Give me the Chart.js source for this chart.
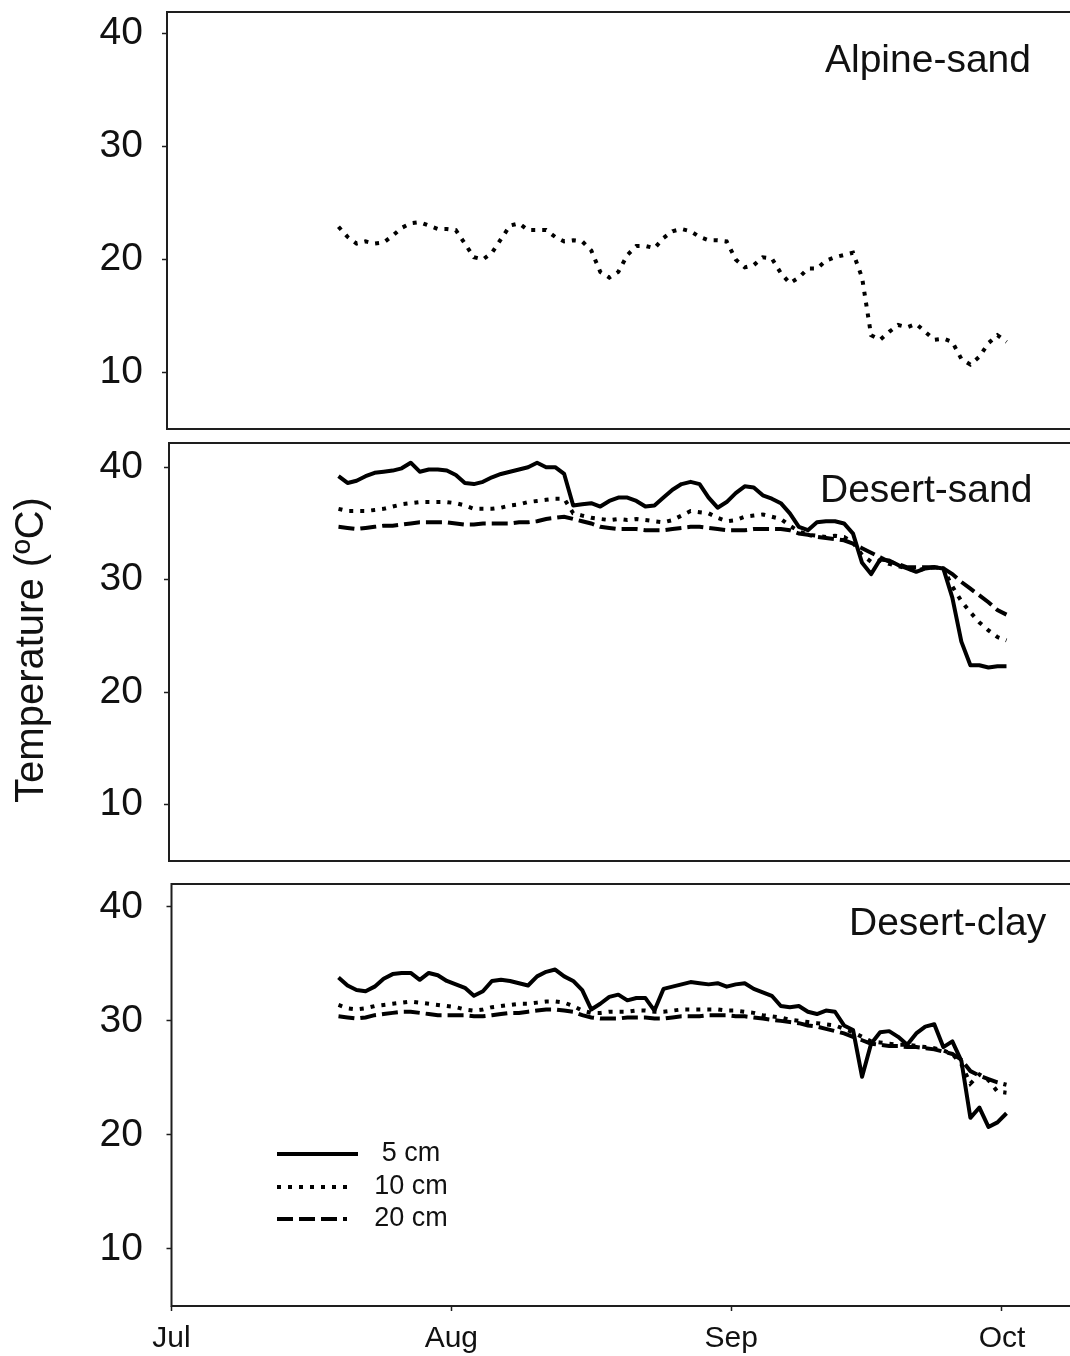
<!DOCTYPE html>
<html>
<head>
<meta charset="utf-8">
<script src="https://cdn.jsdelivr.net/npm/chart.js@4.4.1/dist/chart.umd.min.js"></script>
<style>
  html, body { margin: 0; padding: 0; background: #fff; overflow: hidden; }
  #wrap { position: relative; width: 1070px; height: 1356px; overflow: hidden; background: #fff; }
  .panel { position: absolute; left: 0; }
</style>
</head>
<body>
<div id="wrap">
  <div class="panel" style="top:0px"><canvas id="alpine" width="1080" height="440"></canvas></div>
  <div class="panel" style="top:440px"><canvas id="dsand" width="1080" height="440"></canvas></div>
  <div class="panel" style="top:880px"><canvas id="dclay" width="1080" height="476"></canvas></div>
</div>
<script>
// Month ticks (days counted from 1 July)
const months = ['Jul', 'Aug', 'Sep', 'Oct'];
const monthStarts = [0, 31, 62, 92];
const yTicks = [10, 20, 30, 40];
const depthLabels = ['5 cm', '10 cm', '20 cm'];
const siteNames = ['Alpine-sand', 'Desert-sand', 'Desert-clay'];

// Daily means, 19 July (day 18.5) to 1 October (day 92.5)
const firstDay = 18.5;
const dayCount = 75;
const days = Array.from({ length: dayCount }, (_, i) => firstDay + i);

// Soil temperature (°C)
const alpineSand10 = [
  22.9, 22.0, 21.4, 21.6, 21.4, 21.5, 22.1, 22.8, 23.2, 23.3,
  23.0, 22.7, 22.7, 22.6, 21.4, 20.2, 20.0, 20.6, 21.8, 23.0,
  23.2, 22.6, 22.6, 22.6, 22.0, 21.6, 21.7, 21.6, 20.8, 18.9,
  18.4, 18.9, 20.4, 21.2, 21.2, 21.0, 21.9, 22.5, 22.7, 22.5,
  22.0, 21.7, 21.7, 21.6, 20.0, 19.3, 19.5, 20.2, 20.1, 18.8,
  17.9, 18.4, 19.2, 19.2, 19.9, 20.2, 20.4, 20.6, 18.4, 13.3,
  12.9, 13.6, 14.2, 14.0, 14.3, 13.6, 12.9, 13.0, 12.7, 11.2,
  10.7, 11.4, 12.6, 13.3, 12.7
];
const desertSand5 = [
  39.2, 38.6, 38.8, 39.2, 39.5, 39.6, 39.7, 39.9, 40.4, 39.6,
  39.8, 39.8, 39.7, 39.3, 38.6, 38.5, 38.7, 39.1, 39.4, 39.6,
  39.8, 40.0, 40.4, 40.0, 40.0, 39.4, 36.6, 36.7, 36.8, 36.5,
  37.0, 37.3, 37.3, 37.0, 36.5, 36.6, 37.3, 38.0, 38.5, 38.7,
  38.5, 37.3, 36.4, 36.9, 37.7, 38.3, 38.2, 37.5, 37.2, 36.8,
  35.9, 34.7, 34.4, 35.1, 35.2, 35.2, 35.0, 34.1, 31.5, 30.5,
  31.8, 31.7, 31.3, 31.0, 30.7, 31.0, 31.1, 31.0, 28.4, 24.5,
  22.4, 22.4, 22.2, 22.3, 22.3
];
const desertSand10 = [
  36.3, 36.1, 36.1, 36.1, 36.2, 36.3, 36.5, 36.7, 36.8, 36.9,
  36.9, 36.9, 36.9, 36.8, 36.6, 36.3, 36.3, 36.3, 36.4, 36.6,
  36.7, 36.9, 37.0, 37.1, 37.2, 37.2, 35.9, 35.7, 35.5, 35.4,
  35.3, 35.4, 35.3, 35.4, 35.3, 35.2, 35.1, 35.3, 35.7, 36.1,
  36.0, 35.9, 35.5, 35.2, 35.3, 35.6, 35.7, 35.8, 35.6, 35.4,
  34.8, 34.3, 34.0, 33.9, 33.8, 33.9, 33.8, 33.3, 32.2, 31.6,
  31.7, 31.4, 31.2, 31.0, 30.8, 31.0, 31.1, 31.0, 29.4, 28.1,
  27.1, 26.2, 25.5, 24.9, 24.6
];
const desertSand20 = [
  34.7, 34.6, 34.5, 34.6, 34.7, 34.8, 34.8, 34.9, 35.0, 35.1,
  35.1, 35.1, 35.1, 35.0, 34.9, 34.9, 35.0, 35.0, 35.0, 35.0,
  35.1, 35.1, 35.2, 35.4, 35.5, 35.6, 35.4, 35.2, 35.0, 34.7,
  34.6, 34.5, 34.5, 34.5, 34.4, 34.4, 34.4, 34.5, 34.6, 34.7,
  34.7, 34.6, 34.5, 34.4, 34.4, 34.4, 34.5, 34.5, 34.5, 34.5,
  34.4, 34.1, 34.0, 33.8, 33.7, 33.6, 33.5, 33.2, 32.8, 32.4,
  32.0, 31.6, 31.4, 31.1, 31.1, 31.1, 31.1, 31.0, 30.5, 29.8,
  29.2, 28.6, 28.0, 27.3, 26.9
];
const desertClay5 = [
  33.8, 33.1, 32.7, 32.6, 33.0, 33.7, 34.1, 34.2, 34.2, 33.6,
  34.2, 34.0, 33.5, 33.2, 32.9, 32.2, 32.6, 33.5, 33.6, 33.5,
  33.3, 33.1, 33.9, 34.3, 34.5, 33.9, 33.5, 32.7, 31.0, 31.5,
  32.1, 32.3, 31.8, 32.0, 32.0, 30.9, 32.8, 33.0, 33.2, 33.4,
  33.3, 33.2, 33.3, 33.0, 33.2, 33.3, 32.8, 32.5, 32.2, 31.3,
  31.2, 31.3, 30.8, 30.6, 30.9, 30.8, 29.6, 29.2, 25.1, 28.0,
  29.0, 29.1, 28.6, 27.9, 28.9, 29.5, 29.7, 27.7, 28.2, 26.5,
  21.5, 22.4, 20.7, 21.1, 21.9
];
const desertClay10 = [
  31.4, 31.1, 31.0, 31.1, 31.3, 31.4, 31.5, 31.6, 31.7, 31.6,
  31.5, 31.4, 31.3, 31.2, 31.0, 30.9, 31.0, 31.2, 31.3, 31.4,
  31.5, 31.5, 31.6, 31.7, 31.7, 31.6, 31.3, 30.9, 30.7, 30.7,
  30.8, 30.8, 30.8, 30.9, 30.9, 30.8, 30.8, 30.9, 31.0, 31.0,
  31.0, 31.0, 31.0, 30.9, 30.9, 30.8, 30.7, 30.5, 30.4, 30.3,
  30.1, 30.0, 29.9, 29.8, 29.7, 29.6, 29.3, 29.0, 28.6, 28.2,
  28.1, 28.0, 27.9, 27.9, 27.8, 27.7, 27.6, 27.4, 27.1, 26.2,
  24.5, 25.3, 24.8, 23.8, 23.7
];
const desertClay20 = [
  30.4, 30.3, 30.2, 30.3, 30.5, 30.6, 30.7, 30.8, 30.8, 30.7,
  30.6, 30.5, 30.5, 30.5, 30.5, 30.4, 30.4, 30.5, 30.6, 30.7,
  30.7, 30.8, 30.9, 31.0, 31.0, 30.9, 30.8, 30.5, 30.3, 30.2,
  30.2, 30.2, 30.3, 30.3, 30.3, 30.2, 30.2, 30.3, 30.4, 30.4,
  30.4, 30.5, 30.5, 30.5, 30.4, 30.4, 30.3, 30.2, 30.1, 30.0,
  29.9, 29.8, 29.6, 29.5, 29.3, 29.1, 28.9, 28.6, 28.3, 28.0,
  27.9, 27.8, 27.8, 27.7, 27.7, 27.6, 27.5, 27.3, 27.1, 26.6,
  25.6, 25.2, 24.9, 24.6, 24.4
];

const FONT = '"Liberation Sans", Arial, Helvetica, sans-serif';
const INK = '#111';
const FRAME = '#1e1e1e';

// Line style for each depth: solid, dotted, dashed
const depthStyles = [
  { borderDash: [], borderWidth: 4 },
  { borderDash: [4, 7], borderWidth: 4 },
  { borderDash: [16, 6], borderWidth: 4 }
];

function series(values, depthIndex) {
  const st = depthStyles[depthIndex];
  return {
    label: depthLabels[depthIndex],
    data: days.map((d, i) => ({ x: d, y: values[i] })),
    borderColor: '#000',
    borderWidth: st.borderWidth,
    borderDash: st.borderDash,
    borderCapStyle: 'butt',
    borderJoinStyle: depthIndex === 0 ? 'round' : 'miter',
    pointRadius: 0,
    tension: 0,
    fill: false
  };
}

// Box around the plotting area plus the site name
const framePlugin = {
  id: 'frame',
  afterDatasetsDraw(chart, args, opts) {
    const { ctx, chartArea: a } = chart;
    ctx.save();
    ctx.strokeStyle = FRAME;
    ctx.lineWidth = 2;
    ctx.strokeRect(a.left, a.top, a.right - a.left, a.bottom - a.top);
    if (opts.title) {
      ctx.font = '39px ' + FONT;
      ctx.fillStyle = INK;
      ctx.textAlign = 'left';
      ctx.textBaseline = 'alphabetic';
      ctx.fillText(opts.title, opts.titleX, opts.titleY);
    }
    ctx.restore();
  }
};

// Depth key drawn inside the lower panel
const depthKeyPlugin = {
  id: 'depthKey',
  afterDatasetsDraw(chart, args, opts) {
    if (!opts.show) return;
    const { ctx } = chart;
    ctx.save();
    chart.data.datasets.forEach((ds, i) => {
      const y = opts.rows[i];
      ctx.strokeStyle = ds.borderColor;
      ctx.lineWidth = ds.borderWidth;
      ctx.setLineDash(ds.borderDash);
      ctx.lineCap = 'butt';
      ctx.beginPath();
      ctx.moveTo(opts.lineX0, y);
      ctx.lineTo(opts.lineX1[i], y);
      ctx.stroke();
      ctx.setLineDash([]);
      ctx.font = '27px ' + FONT;
      ctx.fillStyle = INK;
      ctx.textAlign = 'center';
      ctx.textBaseline = 'middle';
      ctx.fillText(ds.label, opts.textX, y);
    });
    ctx.restore();
  }
};

// Rotated y-axis caption
const yCaptionPlugin = {
  id: 'yCaption',
  afterDraw(chart, args, opts) {
    if (!opts.text) return;
    const { ctx } = chart;
    ctx.save();
    ctx.translate(opts.x, opts.y);
    ctx.rotate(-Math.PI / 2);
    ctx.font = '40px ' + FONT;
    ctx.fillStyle = INK;
    ctx.textAlign = 'center';
    ctx.textBaseline = 'middle';
    ctx.fillText(opts.text, 0, 0);
    ctx.restore();
  }
};

const JUL_PX = 171.5;       // pixel of 1 July
const PX_PER_DAY = 9.027;   // horizontal scale
const RIGHT_PX = 1080;

function makeChart(id, cfg) {
  const left = cfg.left;
  return new Chart(document.getElementById(id), {
    type: 'line',
    data: { datasets: cfg.datasets },
    options: {
      responsive: false,
      animation: false,
      events: [],
      layout: { padding: { top: cfg.padTop, bottom: cfg.padBottom, left: 0, right: 0 } },
      scales: {
        x: {
          type: 'linear',
          display: cfg.showX,
          min: (left - JUL_PX) / PX_PER_DAY,
          max: (RIGHT_PX - JUL_PX) / PX_PER_DAY,
          grid: { display: true, drawOnChartArea: false, drawTicks: true, tickLength: 5, tickColor: FRAME, tickWidth: 1.5 },
          border: { display: false },
          ticks: {
            autoSkip: false, maxRotation: 0, padding: 10, color: INK,
            font: { family: FONT, size: 30 },
            callback: v => months[monthStarts.indexOf(v)]
          },
          afterBuildTicks: s => { s.ticks = monthStarts.map(v => ({ value: v })); },
          afterFit: s => {
            s.height = cfg.showX ? 50 : 0;
            s.paddingLeft = 0; s.paddingRight = 0;
          }
        },
        y: {
          type: 'linear',
          min: 5,
          max: cfg.yMax,
          grid: { display: true, drawOnChartArea: false, drawTicks: true, tickLength: 5, tickColor: FRAME, tickWidth: 1.5 },
          border: { display: false },
          ticks: {
            autoSkip: false, padding: left - 5 - 143, color: INK,
            font: { family: FONT, size: 39 }
          },
          afterBuildTicks: s => { s.ticks = yTicks.map(v => ({ value: v })); },
          afterFit: s => { s.width = left; s.paddingTop = 0; s.paddingBottom = 0; }
        }
      },
      plugins: {
        legend: { display: false },
        tooltip: { enabled: false },
        frame: { title: cfg.title, titleX: cfg.titleX, titleY: cfg.titleY },
        depthKey: cfg.key || { show: false },
        yCaption: cfg.caption || {}
      }
    },
    plugins: [framePlugin, depthKeyPlugin, yCaptionPlugin]
  });
}

makeChart('alpine', {
  left: 167, padTop: 12, padBottom: 11, yMax: 41.9, showX: false,
  title: siteNames[0], titleX: 825, titleY: 72,
  datasets: [series(alpineSand10, 1)]
});

makeChart('dsand', {
  left: 169, padTop: 3, padBottom: 19, yMax: 42.15, showX: false,
  title: siteNames[1], titleX: 820, titleY: 62,
  caption: { text: 'Temperature (ºC)', x: 32, y: 210 },
  datasets: [series(desertSand5, 0), series(desertSand10, 1), series(desertSand20, 2)]
});

makeChart('dclay', {
  left: 171.5, padTop: 4, padBottom: 0, yMax: 42, showX: true,
  title: siteNames[2], titleX: 849, titleY: 55,
  key: { show: true, lineX0: 277, lineX1: [358, 350, 347], rows: [274, 307, 339], textX: 411 },
  datasets: [series(desertClay5, 0), series(desertClay10, 1), series(desertClay20, 2)]
});
</script>
</body>
</html>
